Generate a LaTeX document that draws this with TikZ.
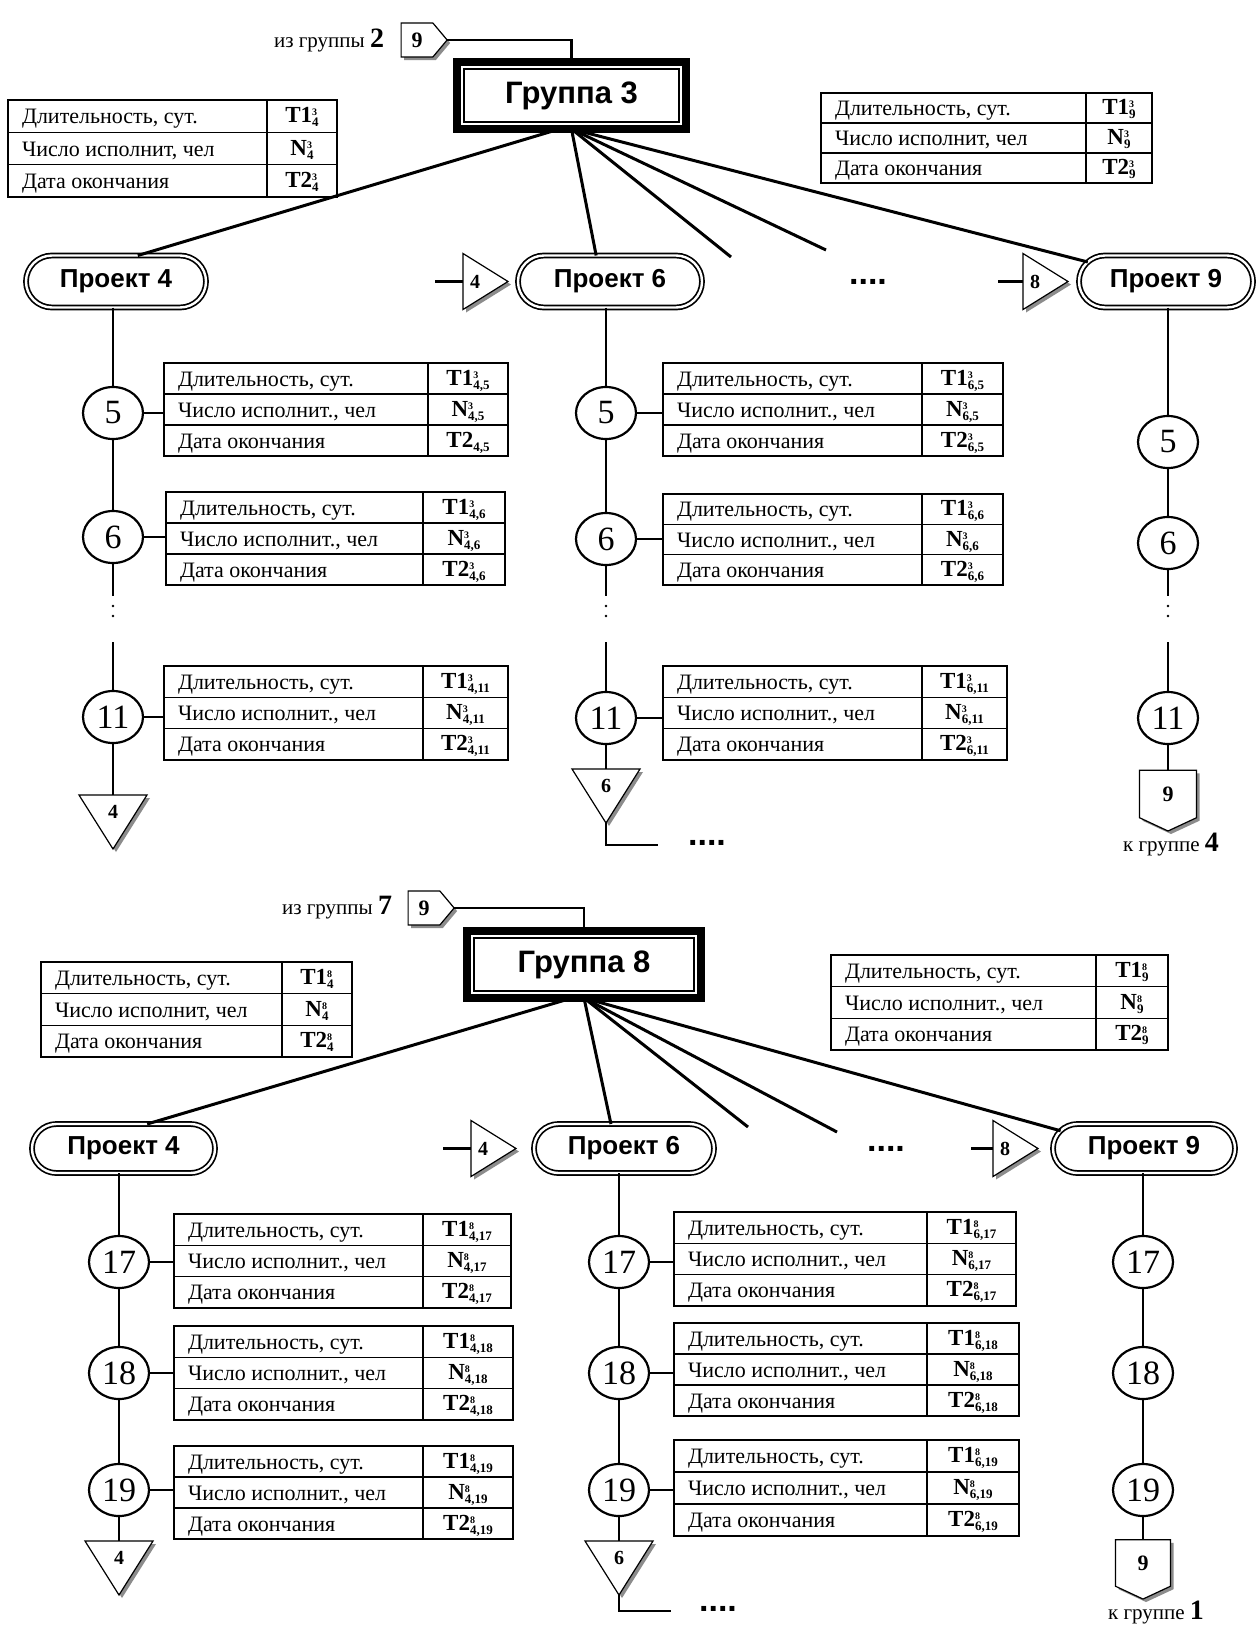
\documentclass[tikz,border=0pt]{standalone}
\usepackage{fontspec}
\setmainfont{Liberation Serif}
\newfontfamily\hsans{Liberation Sans}
\usetikzlibrary{shapes.geometric,shapes.misc,shapes.symbols,shadows,calc,fit}

\newcommand{\fs}[1]{\fontsize{#1}{#1}\selectfont}
\newcommand{\tv}[3]{\textbf{#1}\rlap{\raisebox{7pt}{\fs{10}\bfseries #2}}\raisebox{-4pt}{\fs{13}\bfseries #3}}

\tikzset{
 every node/.style={inner sep=0pt, outer sep=0pt},
 grpout/.style={draw, line width=8pt, minimum width=229pt, minimum height=67pt},
 grpin/.style={draw, line width=1.5pt, minimum width=215pt, minimum height=53pt, font=\hsans\bfseries\fs{31}},
 proj/.style={rounded rectangle, draw, double, line width=1.7pt, double distance=2.4pt, minimum width=180pt, minimum height=52pt, font=\hsans\bfseries\fs{26}},
 stage/.style={ellipse, draw, line width=2.2pt, minimum width=60pt, minimum height=52pt, font=\fs{34}},
 link/.style={line width=2.6pt},
 spoke/.style={line width=3pt},
 tick/.style={line width=1.2pt},
 tabframe/.style={draw, line width=1.4pt},
 tabrule/.style={line width=1.4pt},
 tabdiv/.style={line width=2.8pt},
 tabtext/.style={font=\fs{22}, anchor=base west},
 valtext/.style={font=\fs{23}, anchor=base},
 shade/.style={drop shadow={shadow xshift=3pt, shadow yshift=-3pt, fill=black!45, opacity=1}},
 connshape/.style={draw, line width=1.2pt, fill=white, shade},
 connlab/.style={font=\bfseries\fs{20}},
 sig/.style={signal, draw, line width=1.2pt, fill=white, shade, minimum width=46pt, minimum height=34pt, signal pointer angle=100, font=\bfseries\fs{22}},
 sigdown/.style={signal, signal to=south, draw, line width=1.2pt, fill=white, shade, minimum width=57pt, minimum height=50pt, signal pointer angle=130, font=\bfseries\fs{22}},
 dots/.style={font=\hsans\bfseries\fs{34}},
 reftext/.style={font=\fs{21}},
 ellip/.style={line width=2.6pt, line cap=round, dash pattern=on 0pt off 10pt}
}

% table: name, nw, se, divider point, row2 text, v1, v2, v3
\newcommand{\infotab}[8]{%
 \coordinate (#1-nw) at #2;
 \coordinate (#1-se) at #3;
 \node[tabframe, fit=(#1-nw)(#1-se)] (#1) {};
 \coordinate (#1-d) at #4;
 \draw[tabrule] ($(#1.north west)!1/3!(#1.south west)$) -- ($(#1.north east)!1/3!(#1.south east)$);
 \draw[tabrule] ($(#1.north west)!2/3!(#1.south west)$) -- ($(#1.north east)!2/3!(#1.south east)$);
 \draw[tabdiv] (#1-d |- #1.north) -- (#1-d |- #1.south);
 \draw[tabdiv] (#1.north east) -- (#1.south east);
 \path (#1.north west) -- (#1.south west) coordinate[pos=1/6] (#1-r1) coordinate[pos=1/2] (#1-r2) coordinate[pos=5/6] (#1-r3);
 \path (#1-d |- #1.north) -- (#1.north east) coordinate[pos=.5] (#1-vx);
 \node[tabtext] (#1-l1) at ([shift={(14pt,-7.5pt)}]#1-r1) {Длительность, сут.};
 \node[tabtext] (#1-l2) at ([shift={(14pt,-7.5pt)}]#1-r2) {#5};
 \node[tabtext] (#1-l3) at ([shift={(14pt,-7.5pt)}]#1-r3) {Дата окончания};
 \node[valtext] (#1-v1) at ([yshift=-6.5pt]#1-vx |- #1-r1) {#6};
 \node[valtext] (#1-v2) at ([yshift=-6.5pt]#1-vx |- #1-r2) {#7};
 \node[valtext] (#1-v3) at ([yshift=-6.5pt]#1-vx |- #1-r3) {#8};
}
% right-pointing triangle: name, left x, centre y, label
\newcommand{\rtri}[4]{%
 \coordinate (#1) at (#2,#3);
 \draw[connshape] (#2,#3-28) -- (#2+45,#3) -- (#2,#3+28) -- cycle;
 \node[connlab] (#1-l) at (#2+12,#3) {#4};
}
% down-pointing triangle: name, centre x, top y, label
\newcommand{\dtri}[4]{%
 \coordinate (#1) at (#2,#3);
 \coordinate (#1-tip) at (#2,#3+54);
 \draw[connshape] (#2-34,#3) -- (#2+34,#3) -- (#1-tip) -- cycle;
 \node[connlab] (#1-l) at (#2,#3+17) {#4};
}

\begin{document}
\begin{tikzpicture}[x=1pt,y=-1pt]
\fill[white] (0,0) rectangle (1259,1625);
\useasboundingbox (0,0) rectangle (1259,1625);

%================ TOP: Группа 3 =================
\node[reftext, anchor=east] (from2) at (384,40) {из группы \fs{28}\bfseries 2};
\node[sig] (s2) at (417,40) {9};
\node[grpout] (g3) at (571.5,95.5) {};
\node[grpin] (g3i) at (g3) {Группа 3};
\draw[link] (s2.east) -| (g3.north);

\infotab{tg3l}{(8,100)}{(337,197)}{(267,0)}{Число исполнит, чел}{\tv{T1}{3}{4}}{\tv{N}{3}{4}}{\tv{T2}{3}{4}}
\infotab{tg3r}{(821,93)}{(1152,183)}{(1086,0)}{Число исполнит, чел}{\tv{T1}{3}{9}}{\tv{N}{3}{9}}{\tv{T2}{3}{9}}

\node[proj] (p4) at (116,281.5) {Проект 4};
\node[proj, minimum width=184pt] (p6) at (610,281.5) {Проект 6};
\node[proj, minimum width=174pt] (p9) at (1166,281.5) {Проект 9};

\coordinate (sp3) at (731,257);
\coordinate (sp4) at (826,250);
\draw[spoke] ([xshift=-12pt]g3.south) -- (p4.50);
\draw[spoke] (g3.south) -- (p6.118);
\draw[spoke] (g3.south) -- (sp3);
\draw[spoke] (g3.south) -- (sp4);
\draw[spoke] (g3.south) -- (p9.166);

\coordinate (d4) at (435,281.5);
\rtri{r4}{463}{281.5}{4}
\draw[link] (d4) -- (r4);
\node[dots] (dt1) at (868,281.5) {....};
\coordinate (d8) at (998,281.5);
\rtri{r8}{1023}{281.5}{8}
\draw[link] (d8) -- (r8);

% column A
\node[stage] (a5) at (113,413) {5};
\node[stage] (a6) at (113,537) {6};
\node[stage] (a11) at (113,717) {11};
\coordinate (ae1) at (113,596); \coordinate (ae2) at (113,642);
\coordinate (ad1) at (113,606); \coordinate (ad2) at (113,626);
\dtri{ta}{113}{795}{4}
\draw[link] (a5.north |- p4.south) -- (a5.north);
\draw[link] (a5.south) -- (a6.north);
\draw[link] (a6.south) -- (ae1);
\draw[ellip] (ad1) -- (ad2);
\draw[link] (ae2) -- (a11.north);
\draw[link] (a11.south) -- (ta);
\infotab{ta5}{(164,363)}{(508,456)}{(428,0)}{Число исполнит., чел}{\tv{T1}{3}{4,5}}{\tv{N}{3}{4,5}}{\tv{T2}{}{4,5}}
\infotab{ta6}{(166,492)}{(505,585)}{(423,0)}{Число исполнит., чел}{\tv{T1}{3}{4,6}}{\tv{N}{3}{4,6}}{\tv{T2}{3}{4,6}}
\infotab{ta11}{(164,666)}{(508,760)}{(423,0)}{Число исполнит., чел}{\tv{T1}{3}{4,11}}{\tv{N}{3}{4,11}}{\tv{T2}{3}{4,11}}
\draw[tick] (a5.east) -- (a5.east -| ta5.west);
\draw[tick] (a6.east) -- (a6.east -| ta6.west);
\draw[tick] (a11.east) -- (a11.east -| ta11.west);

% column B
\node[stage] (b5) at (606,413) {5};
\node[stage] (b6) at (606,539) {6};
\node[stage] (b11) at (606,718) {11};
\coordinate (be1) at (606,596); \coordinate (be2) at (606,642);
\coordinate (bd1) at (606,606); \coordinate (bd2) at (606,626);
\dtri{tb}{606}{769}{6}
\draw[link] (b5.north |- p6.south) -- (b5.north);
\draw[link] (b5.south) -- (b6.north);
\draw[link] (b6.south) -- (be1);
\draw[ellip] (bd1) -- (bd2);
\draw[link] (be2) -- (b11.north);
\draw[link] (b11.south) -- (tb);
\coordinate (bend) at (658,845);
\draw[link] (tb-tip) |- (bend);
\node[dots] (dt2) at (707,843) {....};
\infotab{tb5}{(663,363)}{(1003,456)}{(922,0)}{Число исполнит., чел}{\tv{T1}{3}{6,5}}{\tv{N}{3}{6,5}}{\tv{T2}{3}{6,5}}
\infotab{tb6}{(663,494)}{(1003,585)}{(922,0)}{Число исполнит., чел}{\tv{T1}{3}{6,6}}{\tv{N}{3}{6,6}}{\tv{T2}{3}{6,6}}
\infotab{tb11}{(663,666)}{(1007,760)}{(922,0)}{Число исполнит., чел}{\tv{T1}{3}{6,11}}{\tv{N}{3}{6,11}}{\tv{T2}{3}{6,11}}
\draw[tick] (b5.east) -- (b5.east -| tb5.west);
\draw[tick] (b6.east) -- (b6.east -| tb6.west);
\draw[tick] (b11.east) -- (b11.east -| tb11.west);

% column C
\node[stage] (c5) at (1168,442) {5};
\node[stage] (c6) at (1168,543) {6};
\node[stage] (c11) at (1168,718) {11};
\coordinate (ce1) at (1168,596); \coordinate (ce2) at (1168,642);
\coordinate (cd1) at (1168,606); \coordinate (cd2) at (1168,626);
\node[sigdown] (sc) at (1168,794) {9};
\node[reftext] (to4) at (1171,845) {к группе \fs{28}\bfseries 4};
\draw[link] (c5.north |- p9.south) -- (c5.north);
\draw[link] (c5.south) -- (c6.north);
\draw[link] (c6.south) -- (ce1);
\draw[ellip] (cd1) -- (cd2);
\draw[link] (ce2) -- (c11.north);
\draw[link] (c11.south) -- (sc.north);

%================ BOTTOM: Группа 8 =================
\node[reftext, anchor=east] (from7) at (392,908) {из группы \fs{28}\bfseries 7};
\node[sig] (s7) at (424,908) {9};
\node[grpout, minimum width=234pt] (g8) at (584,964.5) {};
\node[grpin, minimum width=220pt] (g8i) at (g8) {Группа 8};
\draw[link] (s7.east) -| (g8.north);

\infotab{tg8l}{(41,962)}{(352,1057)}{(282,0)}{Число исполнит, чел}{\tv{T1}{8}{4}}{\tv{N}{8}{4}}{\tv{T2}{8}{4}}
\infotab{tg8r}{(831,955)}{(1168,1050)}{(1096,0)}{Число исполнит., чел}{\tv{T1}{8}{9}}{\tv{N}{8}{9}}{\tv{T2}{8}{9}}

\node[proj, minimum width=183pt, minimum height=49pt] (q4) at (123.5,1148.5) {Проект 4};
\node[proj, minimum width=180pt, minimum height=49pt] (q6) at (624,1148.5) {Проект 6};
\node[proj, minimum width=182pt, minimum height=49pt] (q9) at (1144,1148.5) {Проект 9};

\coordinate (sq3) at (748,1127);
\coordinate (sq4) at (837,1132);
\draw[spoke] ([xshift=-12pt]g8.south) -- (q4.46);
\draw[spoke] (g8.south) -- (q6.118);
\draw[spoke] (g8.south) -- (sq3);
\draw[spoke] (g8.south) -- (sq4);
\draw[spoke] (g8.south) -- (q9.168);

\coordinate (e4) at (443,1148.5);
\rtri{u4}{471}{1148.5}{4}
\draw[link] (e4) -- (u4);
\node[dots] (dt3) at (886,1148.5) {....};
\coordinate (e8) at (971,1148.5);
\rtri{u8}{993}{1148.5}{8}
\draw[link] (e8) -- (u8);

% column A
\node[stage] (x17) at (119,1262) {17};
\node[stage] (x18) at (119,1373) {18};
\node[stage] (x19) at (119,1490) {19};
\dtri{tx}{119}{1541}{4}
\draw[link] (x17.north |- q4.south) -- (x17.north);
\draw[link] (x17.south) -- (x18.north);
\draw[link] (x18.south) -- (x19.north);
\draw[link] (x19.south) -- (tx);
\infotab{tx17}{(174,1214)}{(511,1308)}{(423,0)}{Число исполнит., чел}{\tv{T1}{8}{4,17}}{\tv{N}{8}{4,17}}{\tv{T2}{8}{4,17}}
\infotab{tx18}{(174,1326)}{(513,1420)}{(423,0)}{Число исполнит., чел}{\tv{T1}{8}{4,18}}{\tv{N}{8}{4,18}}{\tv{T2}{8}{4,18}}
\infotab{tx19}{(174,1446)}{(513,1539)}{(423,0)}{Число исполнит., чел}{\tv{T1}{8}{4,19}}{\tv{N}{8}{4,19}}{\tv{T2}{8}{4,19}}
\draw[tick] (x17.east) -- (x17.east -| tx17.west);
\draw[tick] (x18.east) -- (x18.east -| tx18.west);
\draw[tick] (x19.east) -- (x19.east -| tx19.west);

% column B
\node[stage] (y17) at (619,1262) {17};
\node[stage] (y18) at (619,1373) {18};
\node[stage] (y19) at (619,1490) {19};
\dtri{ty}{619}{1541}{6}
\draw[link] (y17.north |- q6.south) -- (y17.north);
\draw[link] (y17.south) -- (y18.north);
\draw[link] (y18.south) -- (y19.north);
\draw[link] (y19.south) -- (ty);
\coordinate (yend) at (671,1611);
\draw[link] (ty-tip) |- (yend);
\node[dots] (dt4) at (718,1609) {....};
\infotab{ty17}{(674,1212)}{(1016,1306)}{(927,0)}{Число исполнит., чел}{\tv{T1}{8}{6,17}}{\tv{N}{8}{6,17}}{\tv{T2}{8}{6,17}}
\infotab{ty18}{(674,1323)}{(1019,1416)}{(927,0)}{Число исполнит., чел}{\tv{T1}{8}{6,18}}{\tv{N}{8}{6,18}}{\tv{T2}{8}{6,18}}
\infotab{ty19}{(674,1440)}{(1019,1536)}{(927,0)}{Число исполнит., чел}{\tv{T1}{8}{6,19}}{\tv{N}{8}{6,19}}{\tv{T2}{8}{6,19}}
\draw[tick] (y17.east) -- (y17.east -| ty17.west);
\draw[tick] (y18.east) -- (y18.east -| ty18.west);
\draw[tick] (y19.east) -- (y19.east -| ty19.west);

% column C
\node[stage] (z17) at (1143,1262) {17};
\node[stage] (z18) at (1143,1373) {18};
\node[stage] (z19) at (1143,1490) {19};
\node[sigdown, minimum width=55pt, minimum height=49pt] (sz) at (1143,1563) {9};
\node[reftext] (to1) at (1156,1613) {к группе \fs{28}\bfseries 1};
\draw[link] (z17.north |- q9.south) -- (z17.north);
\draw[link] (z17.south) -- (z18.north);
\draw[link] (z18.south) -- (z19.north);
\draw[link] (z19.south) -- (sz.north);
\end{tikzpicture}
\end{document}
